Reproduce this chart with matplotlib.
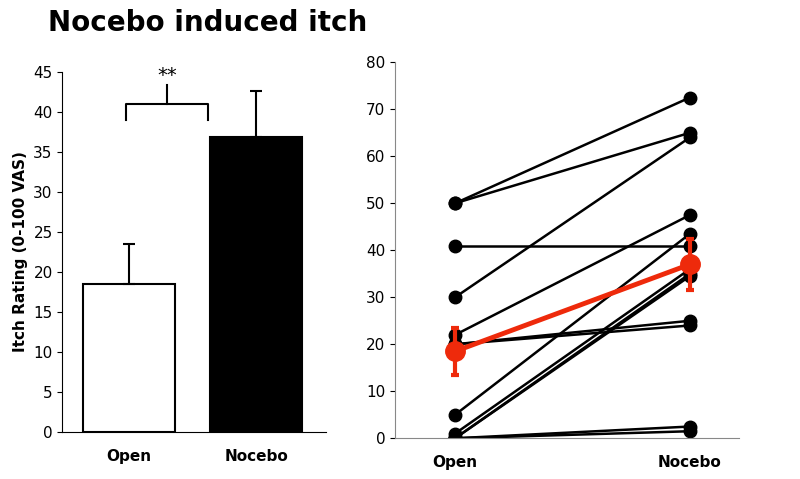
import matplotlib.pyplot as plt

groups = ["Open", "Nocebo"]
mean_rating = [18.5, 36.8]
sem_rating = [5.0, 5.8]

open_vals = [50, 50, 41, 30, 22, 20, 20, 5, 1, 0, 0, 0, 0]
nocebo_vals = [72.5, 65, 41, 64, 47.5, 25, 24, 43.5, 36, 35, 34.5, 2.5, 1.5]
red_mean = [18.5, 37]
red_err = [5.0, 5.5]

fig = plt.figure(figsize=(8, 4.79), dpi=100)
fig.text(0.06, 0.935, "Nocebo induced itch", fontsize=20, fontweight="bold")

ax1 = fig.add_axes([0.078, 0.098, 0.33, 0.752])
ax1.bar([0, 1], mean_rating, width=0.72, color=["white", "black"], edgecolor="black", linewidth=1.5)
ax1.errorbar([0, 1], mean_rating, yerr=[[0, 0], sem_rating], fmt="none", ecolor="black",
             elinewidth=1.5, capsize=4, capthick=1.5)
ax1.plot([-0.02, -0.02, 0.62, 0.62], [39, 41, 41, 39], color="black", lw=1.5)
ax1.plot([0.3, 0.3], [41, 43.3], color="black", lw=1.5)
ax1.text(0.3, 43.3, "**", ha="center", va="bottom", fontsize=14)
ax1.set_xlim(-0.52, 1.55)
ax1.set_ylim(0, 45)
ax1.set_yticks(range(0, 50, 5))
ax1.set_xticks([0, 1])
ax1.set_xticklabels(groups, fontweight="bold", fontsize=11)
ax1.set_ylabel("Itch Rating (0-100 VAS)", fontweight="bold", fontsize=11)
ax1.tick_params(axis="y", labelsize=11)
ax1.tick_params(axis="x", length=0, pad=12)
for sp in ["top", "right"]:
    ax1.spines[sp].set_visible(False)

ax2 = fig.add_axes([0.494, 0.085, 0.43, 0.785])
for o, n in zip(open_vals, nocebo_vals):
    ax2.plot([0, 1], [o, n], color="black", lw=1.8, marker="o", markersize=9)
ax2.errorbar([0, 1], red_mean, yerr=red_err, color="#ee2a0b", lw=3.5, marker="o",
             markersize=14, elinewidth=3, capsize=3, capthick=3)
ax2.set_xlim(-0.255, 1.21)
ax2.set_ylim(0, 80)
ax2.set_yticks(range(0, 90, 10))
ax2.set_xticks([0, 1])
ax2.set_xticklabels(groups, fontweight="bold", fontsize=11)
ax2.tick_params(axis="x", length=0, pad=12)
ax2.tick_params(axis="y", labelsize=11)
for sp in ["top", "right"]:
    ax2.spines[sp].set_visible(False)
ax2.spines["left"].set_color("#888888")
ax2.spines["bottom"].set_color("#888888")

fig.savefig("out.png", dpi=100)
